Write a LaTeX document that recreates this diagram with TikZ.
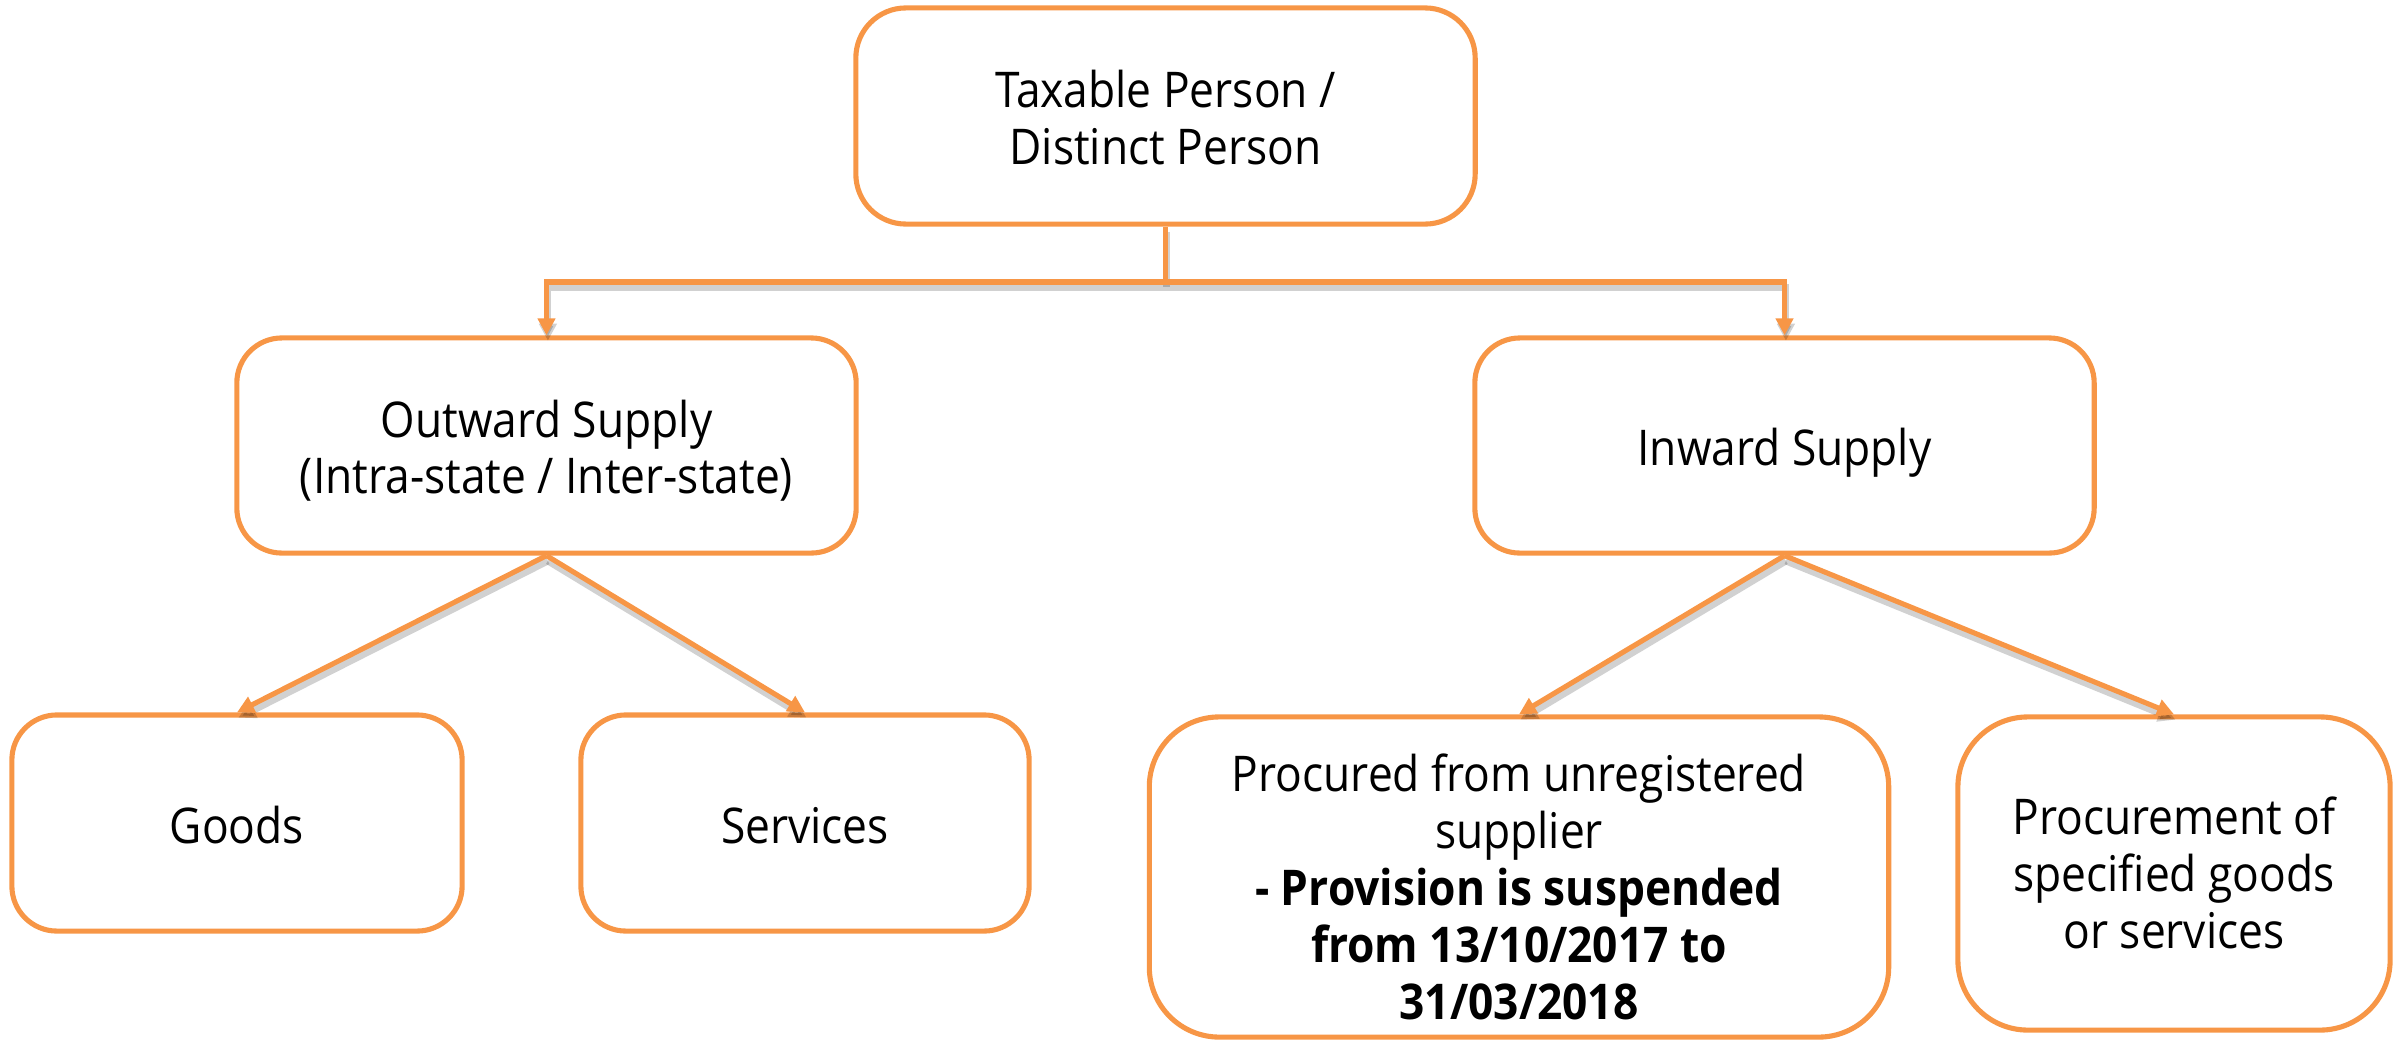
\documentclass[tikz,border=0pt]{standalone}
\usepackage{fontspec}
\setmainfont{Open Sans}[FakeStretch=0.9]
\usetikzlibrary{arrows.meta}
\definecolor{orangeC}{HTML}{F79646}
\newcommand{\bxtext}[2][0.086cm]{\raisebox{-#1}[\height][\depth]{\begin{tabular}{@{}c@{}}#2\end{tabular}}}
\begin{document}
\begin{tikzpicture}[x=0.01cm,y=-0.01cm,
  box/.style={draw=orangeC, line width=1.45pt, fill=white, rounded corners=0.45cm,
    align=center, inner sep=0pt, font=\fontsize{14}{16.2}\selectfont},
  conn/.style={draw=orangeC, line width=1.45pt, -{Triangle[length=0.17cm,width=0.17cm]},
    preaction={draw=black, opacity=0.18, line width=2pt,
      transform canvas={shift={(0.4pt,-1.5pt)}}}},
  connplain/.style={draw=orangeC, line width=1.45pt,
    preaction={draw=black, opacity=0.18, line width=2pt,
      transform canvas={shift={(0.4pt,-1.5pt)}}}}]
\useasboundingbox (0,0) rectangle (2397,1039);

\node[box, rounded corners=0.5cm, minimum width=6.19cm, minimum height=2.16cm] (top) at (1165.5,116) {\bxtext{Taxable Person /\\Distinct Person}};
\node[box, minimum width=6.19cm, minimum height=2.15cm] (out) at (546.5,445.5) {\bxtext{Outward Supply\\(Intra-state / Inter-state)}};
\node[box, minimum width=6.19cm, minimum height=2.15cm] (in) at (1784.5,445.5) {\bxtext{Inward Supply}};
\node[box, minimum width=4.5cm, minimum height=2.16cm] (goods) at (237,823) {\bxtext{Goods}};
\node[box, minimum width=4.48cm, minimum height=2.16cm] (serv) at (805,823) {\bxtext{Services}};
\node[box, rounded corners=0.7cm, minimum width=7.39cm, minimum height=3.2cm] (proc) at (1519,877) {\bxtext[0.17cm]{Procured from unregistered\\supplier\\\textbf{- Provision is suspended}\\\textbf{from 13/10/2017 to}\\\textbf{31/03/2018}}};
\node[box, rounded corners=0.7cm, minimum width=4.32cm, minimum height=3.13cm] (spec) at (2174,873.5) {\bxtext[0.07cm]{Procurement of\\specified goods\\or services}};

\coordinate (bar) at (1165.5,282);
\draw[connplain] (top.south) -- (bar);
\draw[conn] (bar) -| (out.north);
\draw[conn] (bar) -| (in.north);
\draw[conn] (out.south) -- (goods.north);
\draw[conn] (out.south) -- (serv.north);
\draw[conn] (in.south) -- (proc.north);
\draw[conn] (in.south) -- (spec.north);
\end{tikzpicture}
\end{document}
